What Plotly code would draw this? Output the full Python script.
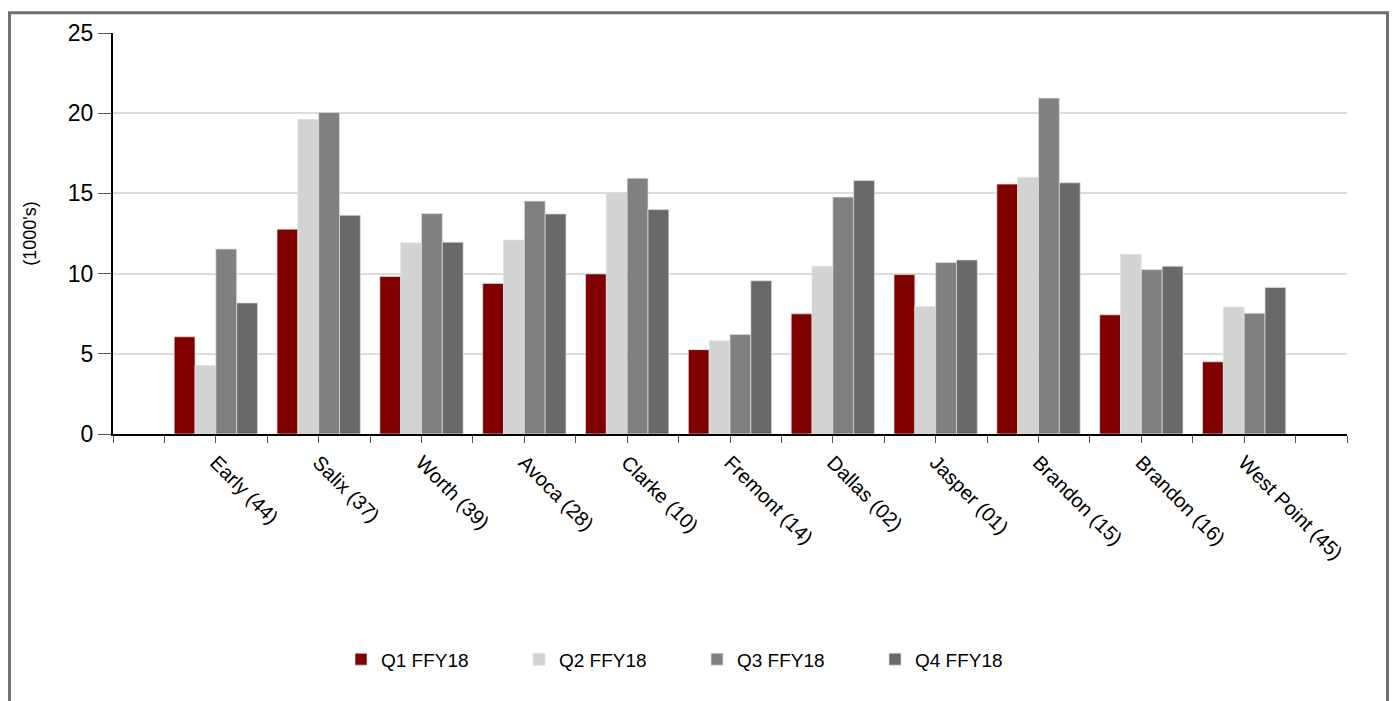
import plotly.graph_objects as go

categories = ["Early (44)", "Salix (37)", "Worth (39)", "Avoca (28)", "Clarke (10)",
              "Fremont (14)", "Dallas (02)", "Jasper (01)", "Brandon (15)",
              "Brandon (16)", "West Point (45)"]
q1 = [6.06, 12.77, 9.82, 9.39, 9.98, 5.26, 7.49, 9.94, 15.58, 7.43, 4.50]
q2 = [4.27, 19.62, 11.92, 12.09, 15.04, 5.82, 10.46, 7.94, 16.01, 11.20, 7.92]
q3 = [11.53, 20.05, 13.74, 14.52, 15.95, 6.21, 14.77, 10.69, 20.94, 10.25, 7.53]
q4 = [8.17, 13.63, 11.96, 13.72, 13.99, 9.55, 15.80, 10.85, 15.66, 10.46, 9.14]
series_names = ["Q1 FFY18", "Q2 FFY18", "Q3 FFY18", "Q4 FFY18"]
y_ticks = [0, 5, 10, 15, 20, 25]

colors = ["#800000", "#d3d3d3", "#808080", "#696969"]
FONT = "Arial, Liberation Sans, Helvetica, sans-serif"
NARROW = "Liberation Sans Narrow, Arial Narrow, Arial, Liberation Sans, sans-serif"

W, H = 1381, 700
ML, MR, MT = 105, 42, 22
PH = 404
MB = H - MT - PH
PW = W - ML - MR

positions = list(range(len(categories)))

fig = go.Figure()
for name, vals, col in zip(series_names, [q1, q2, q3, q4], colors):
    fig.add_trace(go.Bar(
        x=positions, y=vals, name=name,
        marker=dict(color=col, line=dict(color="rgba(225,225,225,0.7)", width=1)),
    ))

# ticks at every half category (centers and boundaries)
tickvals = []
ticktext = []
v = -1.0
while v <= len(categories) + 1e-9:
    tickvals.append(v)
    if abs(v - round(v)) < 1e-9 and 0 <= int(round(v)) < len(categories):
        ticktext.append(categories[int(round(v))])
    else:
        ticktext.append("")
    v += 0.5

# outer border (left, top, right edges of the figure; bottom falls outside)
bx0 = (-ML + 1.5) / PW
bx1 = (W - ML - 1.5) / PW
by1 = 1 + (MT - 1.5) / PH
by0 = -(MB + 20) / PH

fig.update_layout(
    width=W, height=H,
    margin=dict(l=ML, r=MR, t=MT, b=MB),
    paper_bgcolor="white", plot_bgcolor="white",
    font=dict(family=FONT, color="black"),
    barmode="group", bargap=0.19, bargroupgap=0,
    showlegend=True,
    legend=dict(orientation="h", x=(341 - 113) / PW, xanchor="left",
                y=(434 - 661) / PH, yanchor="middle",
                font=dict(size=19, family=NARROW), entrywidth=133,
                entrywidthmode="pixels", traceorder="normal"),
    xaxis=dict(range=[-1, len(categories)], tickvals=tickvals, ticktext=ticktext,
               tickangle=45, tickfont=dict(size=20), ticks="outside", ticklen=7,
               tickcolor="#555555", tickwidth=1,
               showline=True, linecolor="black", linewidth=2, showgrid=False,
               zeroline=False),
    yaxis=dict(range=[0, 25], tickvals=y_ticks, tickfont=dict(size=23),
               ticks="outside", ticklen=13, tickcolor="#555555", tickwidth=1,
               showline=True, linecolor="black", linewidth=2,
               showgrid=True, gridcolor="#dcdcdc", gridwidth=2, zeroline=False,
               title=dict(text="(1000's)", font=dict(size=18), standoff=27)),
    shapes=[dict(type="rect", xref="paper", yref="paper",
                 x0=bx0, x1=bx1, y0=by0, y1=by1,
                 line=dict(color="#707070", width=3), fillcolor="rgba(0,0,0,0)",
                 layer="below")],
)

fig.write_html("out.html")
